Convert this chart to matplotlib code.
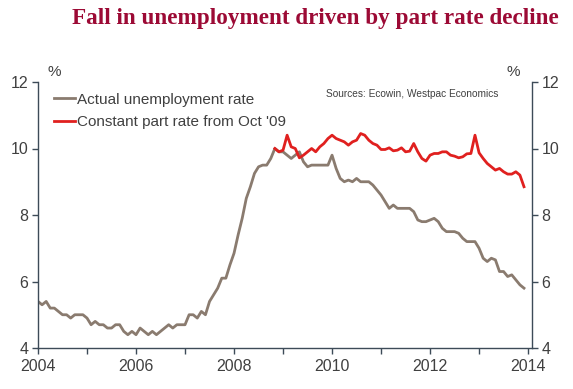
import numpy as np
import matplotlib
matplotlib.use('AGG')
import matplotlib.pyplot as plt
from matplotlib.ticker import MultipleLocator

# Monthly data, Jan 2004 - Dec 2013
start_year = 2004
actual_rate = [
    5.4, 5.3, 5.4, 5.2, 5.2, 5.1, 5.0, 5.0, 4.9, 5.0, 5.0, 5.0,      # 2004
    4.9, 4.7, 4.8, 4.7, 4.7, 4.6, 4.6, 4.7, 4.7, 4.5, 4.4, 4.5,      # 2005
    4.4, 4.6, 4.5, 4.4, 4.5, 4.4, 4.5, 4.6, 4.7, 4.6, 4.7, 4.7,      # 2006
    4.7, 5.0, 5.0, 4.9, 5.1, 5.0, 5.4, 5.6, 5.8, 6.1, 6.1, 6.5,      # 2007
    6.85, 7.4, 7.9, 8.5, 8.85, 9.25, 9.45, 9.5, 9.5, 9.7, 10.0, 9.9,  # 2008
    9.9, 9.8, 9.7, 9.8, 9.9, 9.6, 9.45, 9.5, 9.5, 9.5, 9.5, 9.5,     # 2009
    9.8, 9.4, 9.1, 9.0, 9.05, 9.0, 9.1, 9.0, 9.0, 9.0, 8.9, 8.75,    # 2010
    8.6, 8.4, 8.2, 8.3, 8.2, 8.2, 8.2, 8.2, 8.1, 7.85, 7.8, 7.8,     # 2011
    7.85, 7.9, 7.8, 7.6, 7.5, 7.5, 7.5, 7.45, 7.3, 7.2, 7.2, 7.2,    # 2012
    7.0, 6.7, 6.6, 6.7, 6.65, 6.3, 6.3, 6.15, 6.2, 6.05, 5.9, 5.8,   # 2013
]

# Constant participation rate series starts in Nov 2008
constant_start = 58
constant_rate = [
    10.0, 9.9,                                                          # 2008
    9.95, 10.4, 10.05, 10.0, 9.72, 9.8, 9.9, 10.0, 9.9, 10.05, 10.15, 10.3,    # 2009
    10.4, 10.3, 10.25, 10.2, 10.1, 10.2, 10.25, 10.45, 10.4, 10.25, 10.15, 10.1,  # 2010
    9.97, 9.97, 10.02, 9.93, 9.95, 10.02, 9.9, 9.92, 10.15, 9.9, 9.7, 9.62,    # 2011
    9.8, 9.85, 9.85, 9.9, 9.9, 9.8, 9.77, 9.72, 9.75, 9.84, 9.85, 10.4,        # 2012
    9.87, 9.7, 9.55, 9.45, 9.35, 9.4, 9.3, 9.23, 9.23, 9.3, 9.2, 8.85,         # 2013
]

months = np.arange(len(actual_rate))
x_actual = start_year + months / 12.0
x_constant = start_year + (constant_start + np.arange(len(constant_rate))) / 12.0

plt.rcParams['font.family'] = ['Liberation Sans', 'DejaVu Sans']

text_color = '#404040'
spine_color = '#3d4b58'

fig = plt.figure(figsize=(5.73, 3.89), dpi=100)
ax = fig.add_axes([38 / 573, 41 / 389, 494 / 573, 266 / 389])

ax.plot(x_actual, actual_rate, color='#8a7b6f', lw=2.0,
        label='Actual unemployment rate', solid_joinstyle='round')
ax.plot(x_constant, constant_rate, color='#e0201f', lw=2.0,
        label="Constant part rate from Oct '09", solid_joinstyle='round')

ax.set_xlim(2004, 2014.08)
ax.set_ylim(4, 12)
ax.xaxis.set_major_locator(MultipleLocator(2))
ax.xaxis.set_minor_locator(MultipleLocator(1))
ax.yaxis.set_major_locator(MultipleLocator(2))

for side in ('left', 'right', 'bottom'):
    ax.spines[side].set_color(spine_color)
    ax.spines[side].set_linewidth(1.0)
ax.spines['top'].set_visible(False)

ax.tick_params(axis='both', which='both', direction='out', color=spine_color,
               labelcolor=text_color, labelsize=11.5, length=4, width=1)
ax.tick_params(axis='y', right=True, labelright=True, pad=3)
ax.tick_params(axis='x', pad=4)

ax.text(0.02, 1.01, '%', transform=ax.transAxes, fontsize=11,
        color=text_color, ha='left', va='bottom')
ax.text(0.975, 1.01, '%', transform=ax.transAxes, fontsize=11,
        color=text_color, ha='right', va='bottom')
ax.text(0.932, 0.975, 'Sources: Ecowin, Westpac Economics', transform=ax.transAxes,
        fontsize=7.3, color=text_color, ha='right', va='top')

leg = ax.legend(loc='upper left', bbox_to_anchor=(0.01, 1.0), frameon=False,
                fontsize=11, handlelength=1.4, handletextpad=0.1,
                labelspacing=0.55, borderaxespad=0.3)
for t in leg.get_texts():
    t.set_color(text_color)

fig.text(0.55, 0.953, 'Fall in unemployment driven by part rate decline',
         family=['Liberation Serif', 'DejaVu Serif'], fontweight='bold',
         fontsize=16.7, color='#9c0a35', ha='center', va='center')

fig.savefig('out.png', dpi=100)
